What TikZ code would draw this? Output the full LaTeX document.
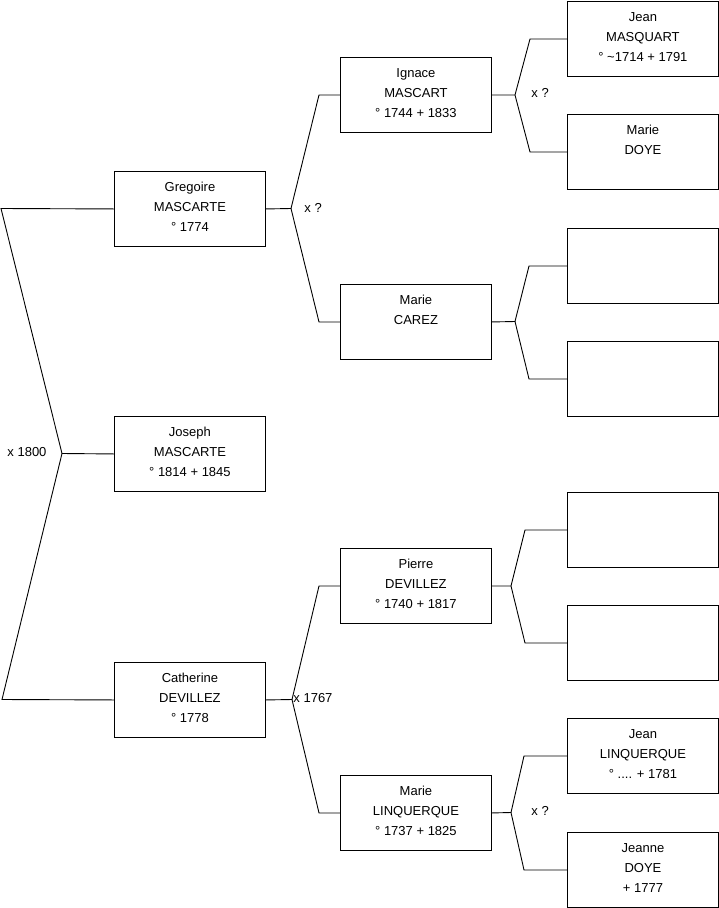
\documentclass[tikz,border=0pt]{standalone}
\usepackage{fontspec}
\setmainfont{Liberation Sans}
\begin{document}
\begin{tikzpicture}[x=1pt,y=-1pt,
  line width=0.9pt,
  person/.style={draw, inner sep=0pt, minimum width=151pt, minimum height=75pt, anchor=north west},
  link/.style={draw, line width=0.9pt},
  union/.style={inner sep=0pt, font=\fontsize{13}{15}\selectfont}]
\newcommand\ptext[1]{\parbox[c][75pt][t]{151pt}{\centering\fontsize{13}{20}\selectfont\rule{0pt}{20.5pt}#1}}
\useasboundingbox (0,0) rectangle (719,908);
% column 1
\node[person] (g) at (114,171) {\ptext{Gregoire\\MASCARTE\\° 1774}};
\node[person] (j) at (114,416) {\ptext{Joseph\\MASCARTE\\° 1814 + 1845}};
\node[person] (c) at (114,662) {\ptext{Catherine\\DEVILLEZ\\° 1778}};
% column 2
\node[person] (ig) at (340,57) {\ptext{Ignace\\MASCART\\° 1744 + 1833}};
\node[person] (mc) at (340,284) {\ptext{Marie\\CAREZ}};
\node[person] (p) at (340,548) {\ptext{Pierre\\DEVILLEZ\\° 1740 + 1817}};
\node[person] (ml) at (340,775) {\ptext{Marie\\LINQUERQUE\\° 1737 + 1825}};
% column 3
\node[person] (jm) at (567,1) {\ptext{Jean\\MASQUART\\° \textasciitilde 1714 + 1791}};
\node[person] (md) at (567,114) {\ptext{Marie\\DOYE}};
\node[person] (e1) at (567,228) {};
\node[person] (e2) at (567,341) {};
\node[person] (e3) at (567,492) {};
\node[person] (e4) at (567,605) {};
\node[person] (jl) at (567,718) {\ptext{Jean\\LINQUERQUE\\° .... + 1781}};
\node[person] (jd) at (567,832) {\ptext{Jeanne\\DOYE\\+ 1777}};
% vertices
\coordinate (L0) at (1,208.5);
\coordinate (L1) at (62,453.5);
\coordinate (L2) at (2,699.5);
\coordinate (V1) at (291,208.5);
\coordinate (V2) at (292,699.5);
\coordinate (V3) at (515,95);
\coordinate (V4) at (515,321.5);
\coordinate (V5) at (511,586);
\coordinate (V6) at (511,812.5);
% links
\draw[link] (g.west) -- (L0) -- (L1) -- (L2) -- (c.west);
\draw[link] (L1) -- (j.west);
\draw[link] (g.east) -- (V1);
\draw[link] (ig.west) -- ([xshift=-21pt]ig.west) -- (V1) -- ([xshift=-21pt]mc.west) -- (mc.west);
\draw[link] (c.east) -- (V2);
\draw[link] (p.west) -- ([xshift=-21pt]p.west) -- (V2) -- ([xshift=-21pt]ml.west) -- (ml.west);
\draw[link] (ig.east) -- (V3);
\draw[link] (jm.west) -- ([xshift=-37pt]jm.west) -- (V3) -- ([xshift=-37pt]md.west) -- (md.west);
\draw[link] (mc.east) -- (V4);
\draw[link] (e1.west) -- ([xshift=-38pt]e1.west) -- (V4) -- ([xshift=-38pt]e2.west) -- (e2.west);
\draw[link] (p.east) -- (V5);
\draw[link] (e3.west) -- ([xshift=-42pt]e3.west) -- (V5) -- ([xshift=-42pt]e4.west) -- (e4.west);
\draw[link] (ml.east) -- (V6);
\draw[link] (jl.west) -- ([xshift=-43pt]jl.west) -- (V6) -- ([xshift=-43pt]jd.west) -- (jd.west);
% union labels
\node[union, anchor=west] (u1) at (7,452) {x 1800};
\node[union, anchor=west] (u2) at (304,208) {x ?};
\node[union, anchor=west] (u3) at (293,698) {x 1767};
\node[union, anchor=west] (u4) at (531,93) {x ?};
\node[union, anchor=west] (u5) at (531,811) {x ?};
\end{tikzpicture}
\end{document}
